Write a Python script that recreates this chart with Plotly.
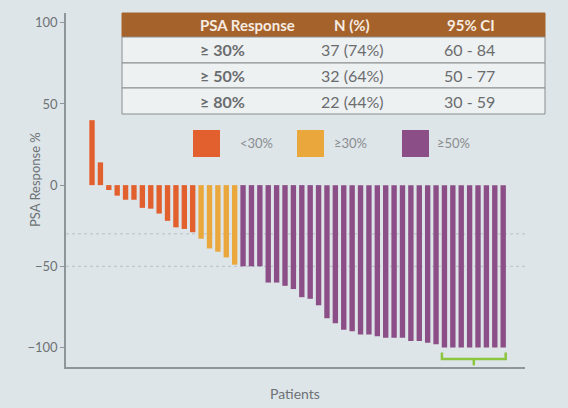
import plotly.graph_objects as go

# PSA change per patient (%), sorted waterfall
orange_vals = [40, 14, -3, -6.5, -9, -9, -14, -14.5, -17.5, -22, -26, -27, -29]
yellow_vals = [-33, -39, -41, -44.5, -49]
purple_vals = [-50, -50, -50, -60, -60, -62, -64, -69, -70, -74,
               -82, -85, -89, -90, -92, -92, -93, -94, -94, -94,
               -96, -96, -97, -98, -100, -100, -100, -100, -100, -100,
               -100, -100]

groups = ["<30%", "≥30%", "≥50%"]
group_colors = ["#e2602e", "#eaa83c", "#8b4e86"]
ref_lines = [-30, -50]
y_ticks = [100, 50, 0, -50, -100]

table_header = ["PSA Response", "N (%)", "95% CI"]
table_rows = [
    ["≥ 30%", "37 (74%)", "60 - 84"],
    ["≥ 50%", "32 (64%)", "50 - 77"],
    ["≥ 80%", "22 (44%)", "30 - 59"],
]

BG = "#dde5e9"
GRAY = "#6e7275"
W, H = 568, 408
L, R, T, B = 66, 43, 13, 41


def px(x):
    return (x - L) / (W - L - R)


def py(y):
    return (H - B - y) / (H - T - B)


fig = go.Figure()

start = 1
for vals, name, col in zip([orange_vals, yellow_vals, purple_vals], groups, group_colors):
    xs = list(range(start, start + len(vals)))
    fig.add_trace(go.Bar(x=xs, y=vals, name=name, marker_color=col,
                         marker_line_width=0, width=0.64, showlegend=False))
    start += len(vals)

n_total = start - 1

shapes = []
# dotted reference lines
for v in ref_lines:
    shapes.append(dict(type="line", xref="paper", yref="y", x0=0, x1=1, y0=v, y1=v,
                       line=dict(color="#b9c0c4", width=1, dash="dot"), layer="below"))

# green bracket under the last 8 patients
xb0, xb1 = n_total - 7 - 0.3, n_total + 0.3
shapes.append(dict(type="path", xref="x", yref="y",
                   path=f"M {xb0},-103 L {xb0},-107 L {xb1},-107 L {xb1},-103",
                   line=dict(color="#8cc63f", width=2.5)))
xm = (xb0 + xb1) / 2
shapes.append(dict(type="line", xref="x", yref="y", x0=xm, x1=xm, y0=-107, y1=-111,
                   line=dict(color="#8cc63f", width=2.5)))

annotations = []


def label(x, y, text, size, color, **kw):
    d = dict(xref="paper", yref="paper", x=px(x), y=py(y), text=text, showarrow=False,
             yanchor="middle", font=dict(size=size, color=color, family="Lato"))
    d.update(kw)
    annotations.append(d)


# table
tl, tr = 122, 545
row_edges = [13, 37, 63, 88, 114]
col_centers = [198, 352, 497]
shapes.append(dict(type="rect", xref="paper", yref="paper", x0=px(tl), x1=px(tr),
                   y0=py(row_edges[1]), y1=py(row_edges[0]),
                   fillcolor="#a5622b", line=dict(color="#a5622b", width=1)))
for i in range(len(table_rows)):
    shapes.append(dict(type="rect", xref="paper", yref="paper", x0=px(tl), x1=px(tr),
                       y0=py(row_edges[i + 2]), y1=py(row_edges[i + 1]),
                       fillcolor="#eef1f2", line=dict(color="#8a8c8e", width=1)))
for c, txt in zip(col_centers, table_header):
    label(c, (row_edges[0] + row_edges[1]) / 2, f"<b>{txt}</b>", 15, "#f6ece2")
for i, row in enumerate(table_rows):
    ymid = (row_edges[i + 1] + row_edges[i + 2]) / 2
    for j, (c, txt) in enumerate(zip(col_centers, row)):
        t = f"<b>{txt}</b>" if j == 0 else txt
        label(c, ymid, t, 16, "#6a6c6e")

# legend boxes
leg_box_x = [193, 297, 402]
leg_txt_x = [238, 332, 435]
for bx, tx, name, col in zip(leg_box_x, leg_txt_x, groups, group_colors):
    shapes.append(dict(type="rect", xref="paper", yref="paper", x0=px(bx), x1=px(bx + 27),
                       y0=py(157), y1=py(130), fillcolor=col, line=dict(width=0)))
    label(tx, 143, name, 13, "#8a8c8e", xanchor="left")

label(295, 393, "Patients", 14, GRAY)
label(25, 180, "PSA Response %", 13, GRAY, textangle=-90)

fig.update_layout(
    width=W, height=H,
    margin=dict(l=L, r=R, t=T, b=B),
    paper_bgcolor=BG, plot_bgcolor=BG,
    barmode="overlay",
    shapes=shapes,
    annotations=annotations,
    xaxis=dict(range=[-2.1, n_total + 2.6], showticklabels=False, ticks="",
               showgrid=False, zeroline=False, showline=True,
               linecolor="#8f9598", linewidth=1.5),
    yaxis=dict(range=[-112, 106], tickvals=y_ticks, ticks="outside", ticklen=4,
               tickcolor="#8f9598", showgrid=False, zeroline=False, showline=True,
               linecolor="#8f9598", linewidth=1.5,
               tickfont=dict(size=13, color=GRAY, family="Lato")),
)

fig.write_html("out.html", config={"displayModeBar": False},
               post_script="document.body.style.margin='0';")
